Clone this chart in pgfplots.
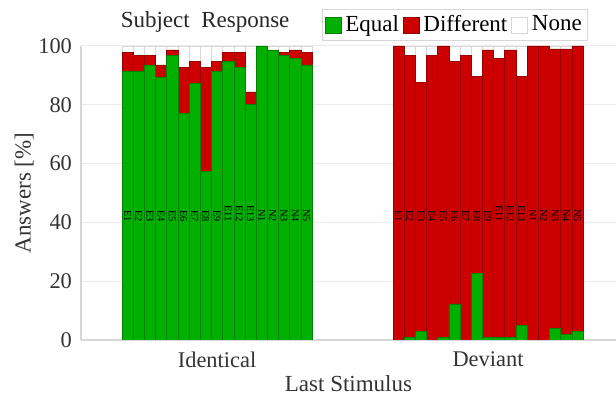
\documentclass[border=0pt]{standalone}
\usepackage{pgfplots}
\pgfplotsset{compat=1.18}
\usepackage{pgfplotstable}
\usepackage{fontspec}
\setmainfont{Liberation Serif}
\definecolor{eqg}{RGB}{0,176,0}
\definecolor{eqgd}{RGB}{0,130,0}
\definecolor{dfr}{RGB}{204,0,0}
\definecolor{dfrd}{RGB}{150,0,0}
\definecolor{axg}{RGB}{215,215,215}
\definecolor{grd}{RGB}{235,235,235}

% x = bar position, E = Equal, D = Different, N = None (%)
\pgfplotstableread{
x      E     D     N    lab
0      91.5  6.2   2.3  E1
1      91.5  5.2   3.3  E2
2      93.6  3.1   3.3  E3
3      89.5  4.1   6.4  E4
4      96.7  2.0   1.3  E5
5      77.0  15.6  7.4  E6
6      87.4  7.3   5.3  E7
7      57.3  35.3  7.4  E8
8      91.5  3.2   5.3  E9
9      94.7  3.0   2.3  E11
10     92.6  5.1   2.3  E12
11     80.0  4.4   15.6 E13
12     100.0 0.0   0.0  N1
13     98.7  0.0   1.3  N2
14     96.7  1.0   2.3  N3
15     95.7  3.0   1.3  N4
16     93.6  4.1   2.3  N5
}\identical
\pgfplotstableread{
x      E     D     N    lab
24.24  0.0   100.0 0.0  E1
25.24  1.0   95.7  3.3  E2
26.24  3.0   84.5  12.5 E3
27.24  0.0   96.7  3.3  E4
28.24  1.0   99.0  0.0  E5
29.24  12.3  82.4  5.3  E6
30.24  0.0   96.7  3.3  E7
31.24  22.7  66.9  10.4 E8
32.24  1.0   97.7  1.3  E9
33.24  1.0   94.7  4.3  E11
34.24  1.0   97.7  1.3  E12
35.24  5.0   84.6  10.4 E13
36.24  0.0   100.0 0.0  N1
37.24  0.0   100.0 0.0  N2
38.24  4.0   95.0  1.0  N3
39.24  2.0   97.0  1.0  N4
40.24  3.0   97.0  0.0  N5
}\deviant

\begin{document}
\begin{tikzpicture}
\pgfplotsset{
  common/.style={
    at={(0pt,0pt)}, anchor=south west,
    width=267.5pt, height=147pt, scale only axis,
    xmin=-4.17, xmax=43.69, ymin=0, ymax=100,
  }
}
\begin{axis}[
  common,
  ybar stacked, bar width=1,
  axis x line*=bottom, axis y line*=left,
  axis line style={axg, line width=0.6pt},
  ymajorgrids, grid style={grd, line width=0.5pt},
  major tick length=0pt,
  ytick={0,20,40,60,80,100},
  xtick={8,32.24},
  xticklabels={Identical,Deviant},
  /pgf/number format/assume math mode=true,
  tick label style={font=\fontsize{11.2}{13}\selectfont, text=black!80},
  xticklabel style={yshift=-2.5pt},
  yticklabel style={xshift=-1pt},
  xlabel={Last Stimulus},
  ylabel={Answers [\%]},
  label style={font=\fontsize{11.5}{13}\selectfont, text=black!80},
  xlabel style={yshift=3pt},
  ylabel style={yshift=-4.5pt},
  title={Subject\ \ Response},
  title style={at={(0.232,1.082)}, anchor=center, yshift=-6pt, font=\fontsize{11.5}{13}\selectfont, text=black!85},
  legend columns=3,
  legend style={at={(0.948,1.126)}, anchor=north east, draw=axg,
    font=\fontsize{11.5}{13}\selectfont, inner sep=1pt,
    /tikz/every even column/.append style={column sep=0pt}},
  legend image code/.code={\draw[#1] (0pt,-4pt) rectangle (8pt,4pt);},
]
\addplot[fill=eqg, draw=eqgd, line width=0.3pt] table[x=x,y=E] {\identical};
\addplot[fill=dfr, draw=dfrd, line width=0.3pt] table[x=x,y=D] {\identical};
\addplot[fill=white, draw=axg, line width=0.3pt] table[x=x,y=N] {\identical};
\legend{Equal,Different,None}
\end{axis}
\begin{axis}[
  common,
  ybar stacked, bar width=1,
  hide axis,
]
\addplot[fill=eqg, draw=eqgd, line width=0.3pt] table[x=x,y=E] {\deviant};
\addplot[fill=dfr, draw=dfrd, line width=0.3pt] table[x=x,y=D] {\deviant};
\addplot[fill=white, draw=axg, line width=0.3pt] table[x=x,y=N] {\deviant};
\end{axis}
\begin{axis}[
  common,
  hide axis,
]
\addplot[draw=none, nodes near coords, point meta=explicit symbolic,
  nodes near coords style={rotate=-90, anchor=east, inner sep=0pt, font=\fontsize{5.2}{6}\selectfont}]
  table[x=x, y expr=40, meta=lab] {\identical};
\addplot[draw=none, nodes near coords, point meta=explicit symbolic,
  nodes near coords style={rotate=-90, anchor=east, inner sep=0pt, font=\fontsize{5.2}{6}\selectfont}]
  table[x=x, y expr=40, meta=lab] {\deviant};
\end{axis}
\pgfresetboundingbox
\path[use as bounding box] (-40.5pt,-27pt) rectangle (267.5pt,170pt);
\end{tikzpicture}
\end{document}
